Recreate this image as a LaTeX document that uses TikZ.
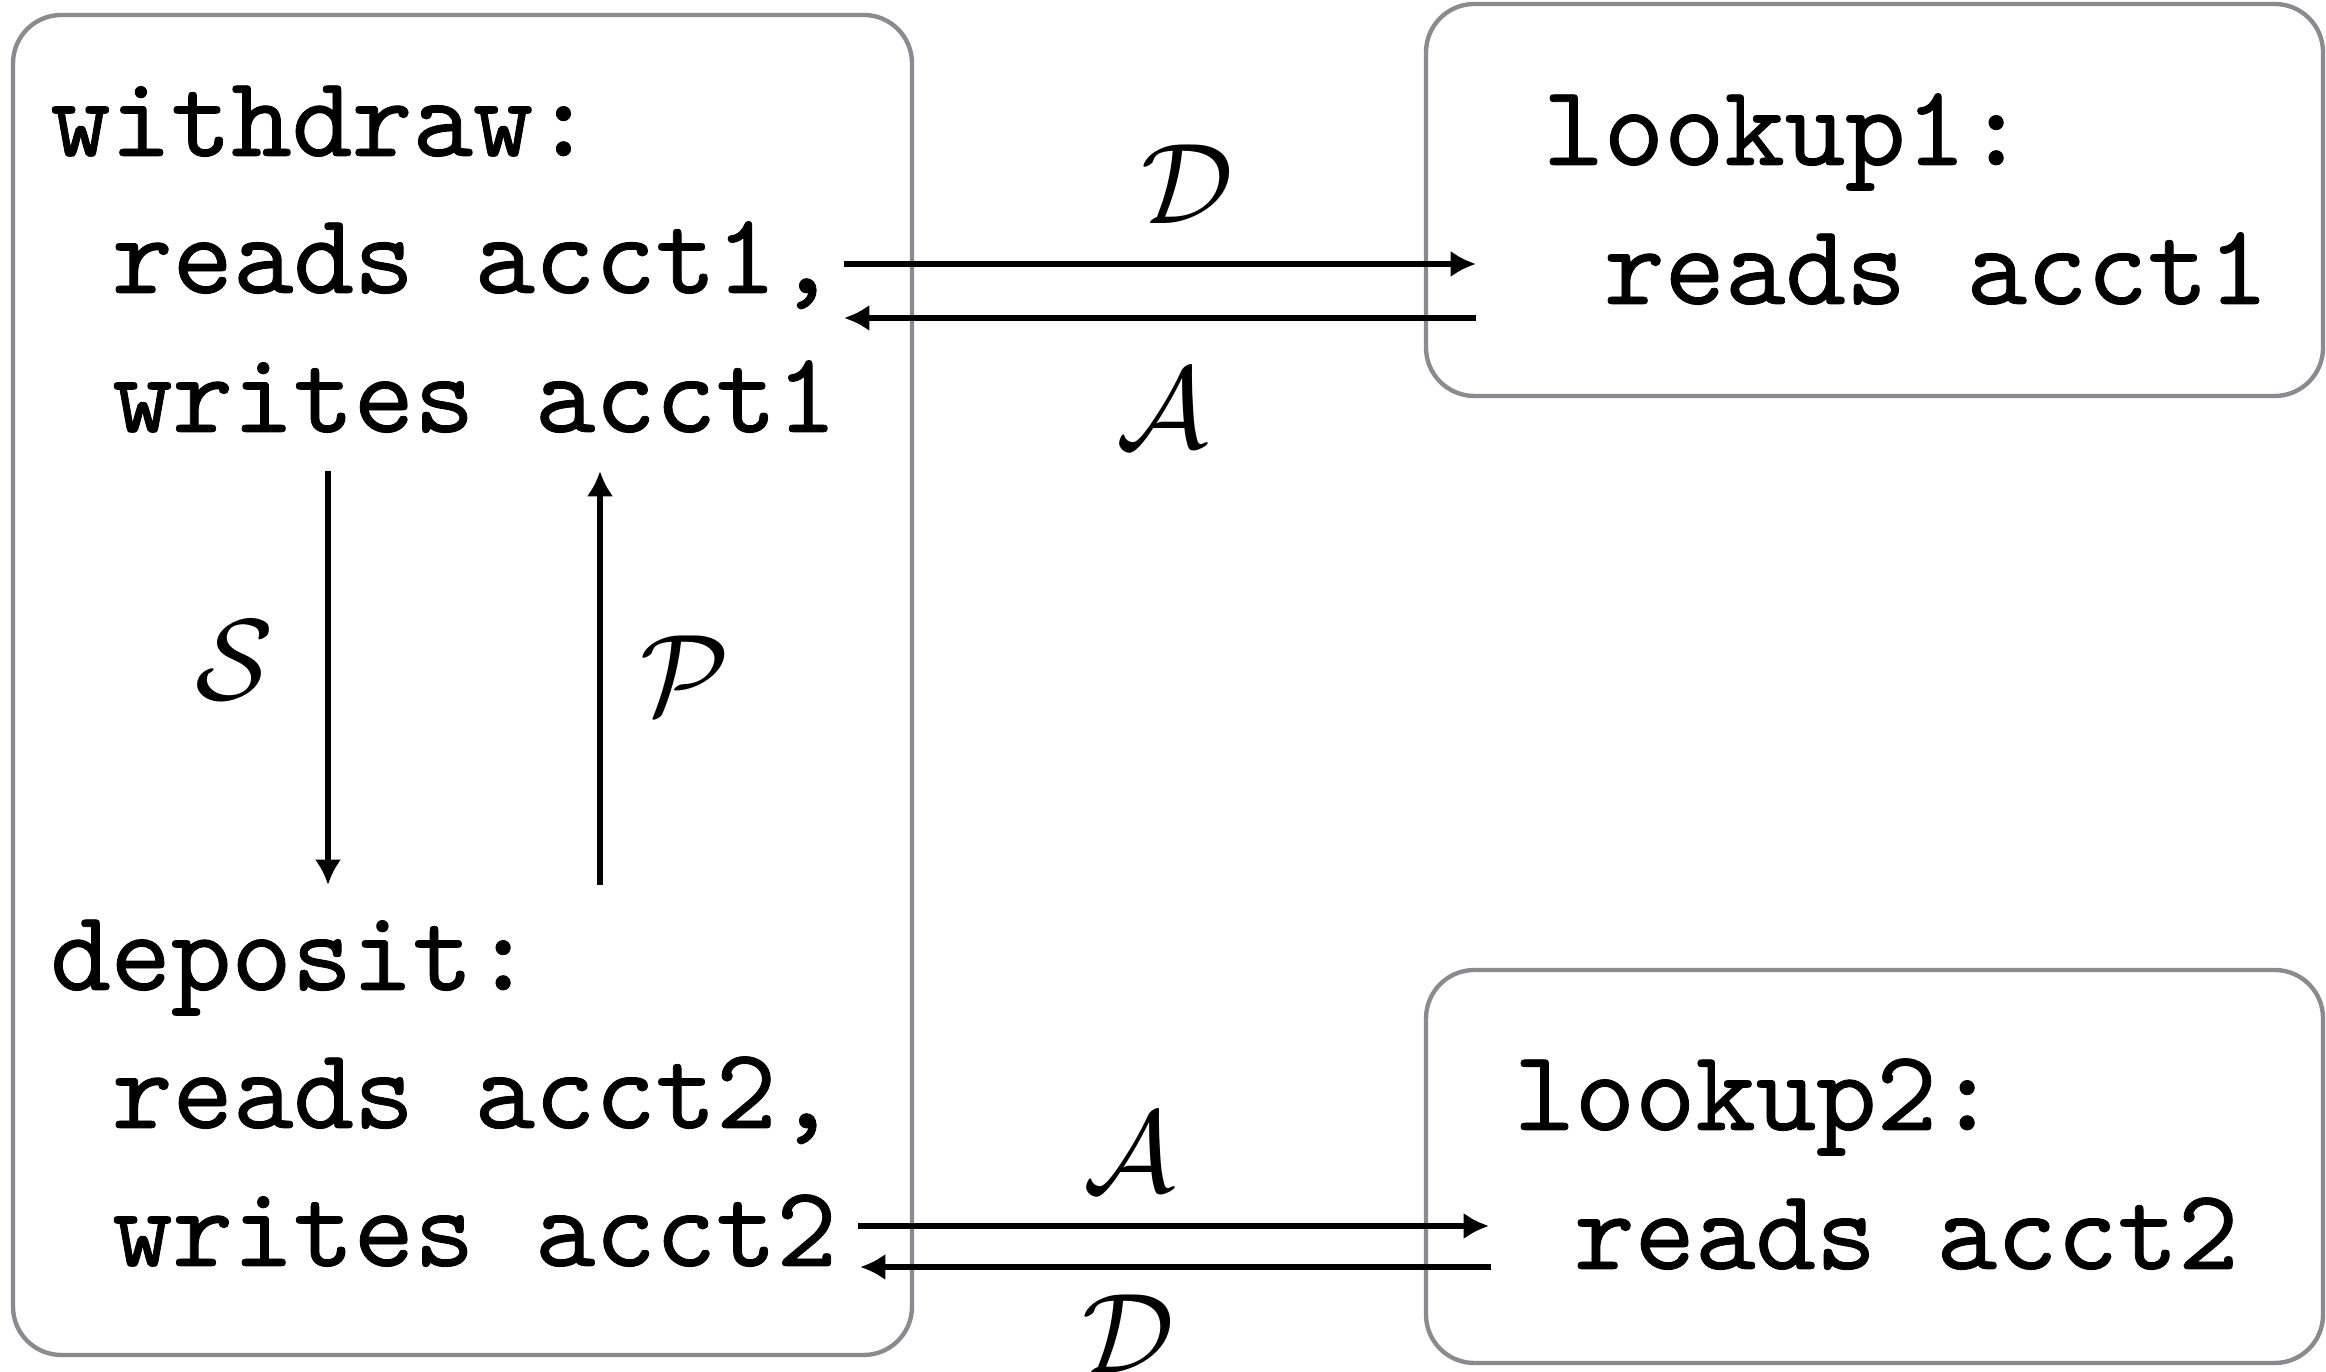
\documentclass[tikz,border=0pt]{standalone}
\usetikzlibrary{arrows.meta}
\definecolor{boxgray}{RGB}{138,138,144}
% typewriter face with a slightly heavier stroke
\font\heavytt="[lmmono10-regular]:embolden=0.7" at 10pt
\begin{document}
\begin{tikzpicture}[x=0.0869565pt,y=-0.0869565pt,
  frame/.style={draw=boxgray,line width=0.38pt,rounded corners=4.2pt,inner sep=0pt},
  codeline/.style={anchor=base west,inner sep=0pt,font=\heavytt},
  tag/.style={inner sep=0pt},
  flow/.style={line width=0.48pt,-{Latex[length=2.2pt,width=2.3pt]}}]
\useasboundingbox (0,0) rectangle (2326,1372);

% rounded frames
\node[frame,minimum width=899*0.0869565pt,minimum height=1340*0.0869565pt] (left) at (462.5,685) {};
\node[frame,minimum width=897*0.0869565pt,minimum height=392*0.0869565pt] (top) at (1874.5,200) {};
\node[frame,minimum width=897*0.0869565pt,minimum height=393*0.0869565pt] (bot) at (1874.5,1166.5) {};

% code text
\node[codeline] (w0) at (48,156) {withdraw:};
\node[codeline] (w1) at (110,293) {reads acct1,};
\node[codeline] (w2) at (110,432) {writes acct1};
\node[codeline] (d0) at (48,990) {deposit:};
\node[codeline] (d1) at (110,1128) {reads acct2,};
\node[codeline] (d2) at (110,1266) {writes acct2};
\node[codeline] (l1a) at (1541,165) {lookup1:};
\node[codeline] (l1b) at (1602,304) {reads acct1};
\node[codeline] (l2a) at (1512,1130) {lookup2:};
\node[codeline] (l2b) at (1572,1269) {reads acct2};

% connector end points
\coordinate (ta) at (844,264);  \coordinate (tb) at (1476,264);
\coordinate (tc) at (1476,318); \coordinate (td) at (844,318);
\coordinate (ba) at (858,1226); \coordinate (bb) at (1489,1226);
\coordinate (bc) at (1491,1267);\coordinate (bd) at (860,1267);
\coordinate (sa) at (328,471);  \coordinate (sb) at (328,885);
\coordinate (pa) at (600,885);  \coordinate (pb) at (600,471);

\draw[flow] (ta) -- (tb);
\draw[flow] (tc) -- (td);
\draw[flow] (ba) -- (bb);
\draw[flow] (bc) -- (bd);
\draw[flow] (sa) -- (sb);
\draw[flow] (pa) -- (pb);

% edge labels
\node[tag] (lD1) at (1187,184) {$\mathcal{D}$};
\node[tag] (lA1) at (1162,408) {$\mathcal{A}$};
\node[tag] (lS) at (235,660) {$\mathcal{S}$};
\node[tag] (lP) at (685,675) {$\mathcal{P}$};
\node[tag] (lA2) at (1129,1152) {$\mathcal{A}$};
\node[tag] (lD2) at (1128,1334) {$\mathcal{D}$};
\end{tikzpicture}
\end{document}
